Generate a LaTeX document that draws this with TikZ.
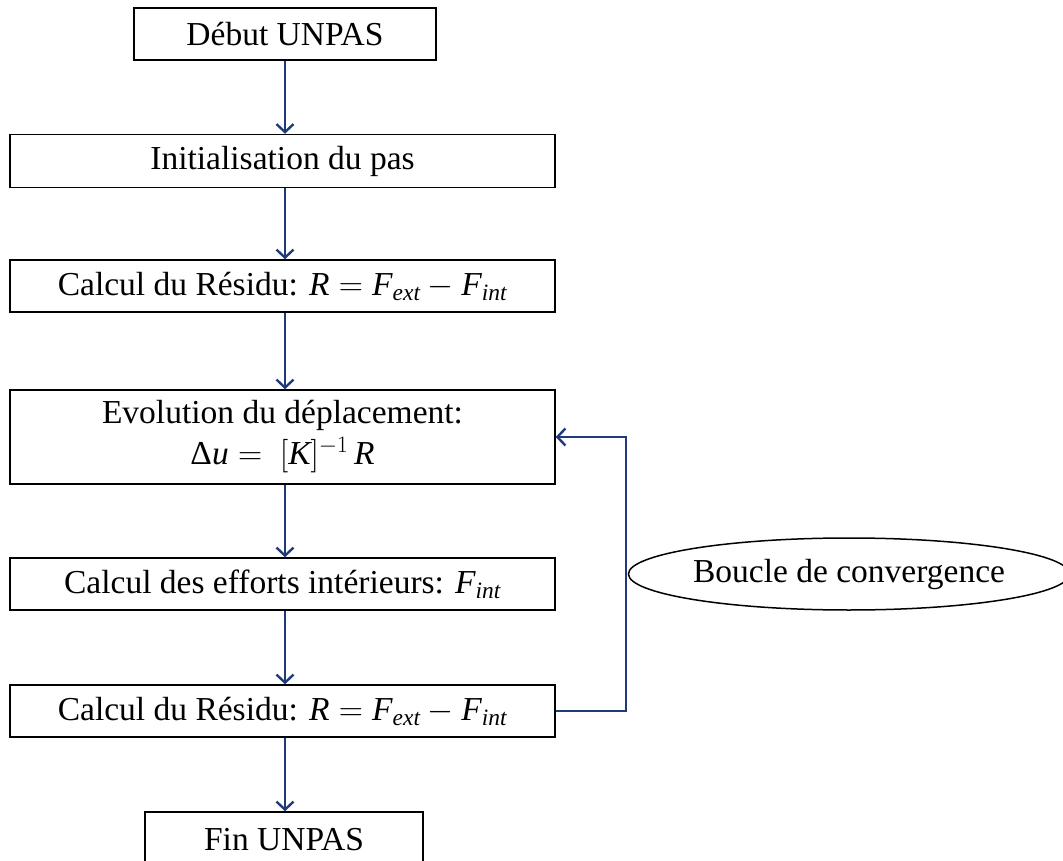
\RequirePackage{fix-cm}
\documentclass[tikz,border=0pt]{standalone}
\usepackage{amsmath}
\usepackage{fontspec}
\setmainfont{Liberation Serif}
\usetikzlibrary{arrows.meta,shapes.geometric}
\definecolor{navy}{HTML}{1F3A78}
\newcommand{\mi}[1]{\textit{#1}}
\begin{document}
\begin{tikzpicture}[x=1pt,y=1pt,
  boxnode/.style={draw=black,line width=1.5pt,rectangle,inner sep=0pt,align=center,
    font=\fontsize{33.5}{40}\selectfont},
  arr/.style={draw=navy,line width=2.4pt,-{Straight Barb[length=8pt,width=17pt]}}]
\useasboundingbox (0,0) rectangle (1063,-861);
\node[boxnode,minimum width=302pt,minimum height=52pt] (start) at (285,-34) {Début UNPAS};
\node[boxnode,minimum width=545pt,minimum height=53pt] (init) at (282.5,-161) {Initialisation du pas};
\node[boxnode,minimum width=545pt,minimum height=52pt] (res1) at (282.5,-286) {Calcul du Résidu: $\mi{R} = \mi{F}_{\mi{ext}} - \mi{F}_{\mi{int}}$};
\node[boxnode,minimum width=545pt,minimum height=94pt] (evol) at (282.5,-437) {Evolution du déplacement:\\[1pt] $\textup{Δ}\mi{u} =\ [\mi{K}]^{-1}\,\mi{R}$};
\node[boxnode,minimum width=545pt,minimum height=52pt] (eff) at (282.5,-584) {Calcul des efforts intérieurs: $\mi{F}_{\mi{int}}$};
\node[boxnode,minimum width=545pt,minimum height=52pt] (res2) at (282.5,-711) {Calcul du Résidu: $\mi{R} = \mi{F}_{\mi{ext}} - \mi{F}_{\mi{int}}$};
\node[boxnode,minimum width=278pt,minimum height=56pt] (fin) at (284,-840) {Fin UNPAS};
\node[boxnode,ellipse,minimum width=428pt,minimum height=72pt] (loop) at (849,-574) {Boucle de convergence};
\coordinate (top) at (285,0);
\draw[arr] (start.south) -- (top |- init.north);
\draw[arr] (top |- init.south) -- (top |- res1.north);
\draw[arr] (top |- res1.south) -- (top |- evol.north);
\draw[arr] (top |- evol.south) -- (top |- eff.north);
\draw[arr] (top |- eff.south) -- (top |- res2.north);
\draw[arr] (top |- res2.south) -- (top |- fin.north);
\coordinate (lx) at (626,0);
\draw[arr] (res2.east) -- (lx |- res2.east) |- (evol.east);
\end{tikzpicture}
\end{document}
